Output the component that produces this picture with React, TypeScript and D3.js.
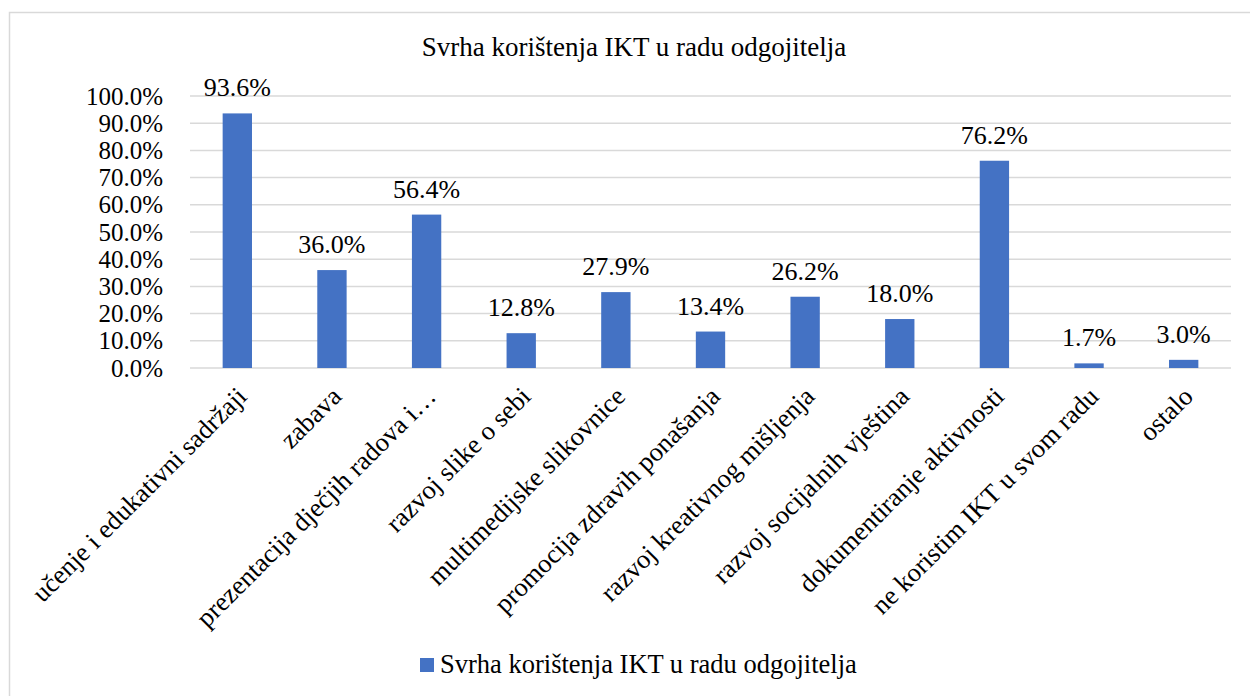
import React from "react";
import * as d3 from "d3";

const title = "Svrha korištenja IKT u radu odgojitelja";
const categories = [
  "učenje i edukativni sadržaji",
  "zabava",
  "prezentacija dječjih radova i…",
  "razvoj slike o sebi",
  "multimedijske slikovnice",
  "promocija zdravih ponašanja",
  "razvoj kreativnog mišljenja",
  "razvoj socijalnih vještina",
  "dokumentiranje aktivnosti",
  "ne koristim IKT u svom radu",
  "ostalo",
];
const values = [93.6, 36.0, 56.4, 12.8, 27.9, 13.4, 26.2, 18.0, 76.2, 1.7, 3.0];
const yTicks = [0, 10, 20, 30, 40, 50, 60, 70, 80, 90, 100];

const W = 1250;
const H = 696;
const font = "Liberation Serif, Tinos, Times New Roman, DejaVu Serif, serif";
const blue = "#4472C4";
const grid = "#d9d9d9";

const App = () => {
  const x = d3
    .scaleBand()
    .domain(categories)
    .range([190, 1231])
    .paddingInner(0.69)
    .paddingOuter(0.345);
  const y = d3.scaleLinear().domain([0, 100]).range([368, 96]);
  const fmt = (v: number) => v.toFixed(1) + "%";

  return (
    <svg
      width={W}
      height={H}
      style={{ position: "absolute", left: 0, top: 0, background: "#fff", fontFamily: font }}
    >
      <rect x={9.5} y={12.5} width={1260} height={700} fill="#fff" stroke={grid} strokeWidth={1.5} />
      <text x={634} y={56} textAnchor="middle" fontSize={27} fill="#000">
        {title}
      </text>

      {yTicks.map(t => (
        <g key={t}>
          <line x1={190} x2={1231} y1={y(t)} y2={y(t)} stroke={grid} strokeWidth={1.5} />
          <text x={163} y={y(t) + 8.5} textAnchor="end" fontSize={25} fill="#000">
            {fmt(t)}
          </text>
        </g>
      ))}

      {categories.map((c, i) => {
        const bx = x(c) as number;
        const cx = bx + x.bandwidth() / 2;
        return (
          <g key={c}>
            <rect
              x={bx}
              y={y(values[i])}
              width={x.bandwidth()}
              height={y(0) - y(values[i])}
              fill={blue}
            />
            <text
              x={cx}
              y={y(values[i]) - 17}
              textAnchor="middle"
              fontSize={26}
              fill="#000"
            >
              {fmt(values[i])}
            </text>
            <text
              transform={`translate(${cx + 11},${398}) rotate(-45)`}
              textAnchor="end"
              fontSize={26.5}
              fill="#000"
            >
              {c}
            </text>
          </g>
        );
      })}

      <rect x={420} y={658} width={14} height={14} fill={blue} />
      <text x={440} y={673} fontSize={26.5} fill="#000">
        {title}
      </text>
    </svg>
  );
};

export default App;
